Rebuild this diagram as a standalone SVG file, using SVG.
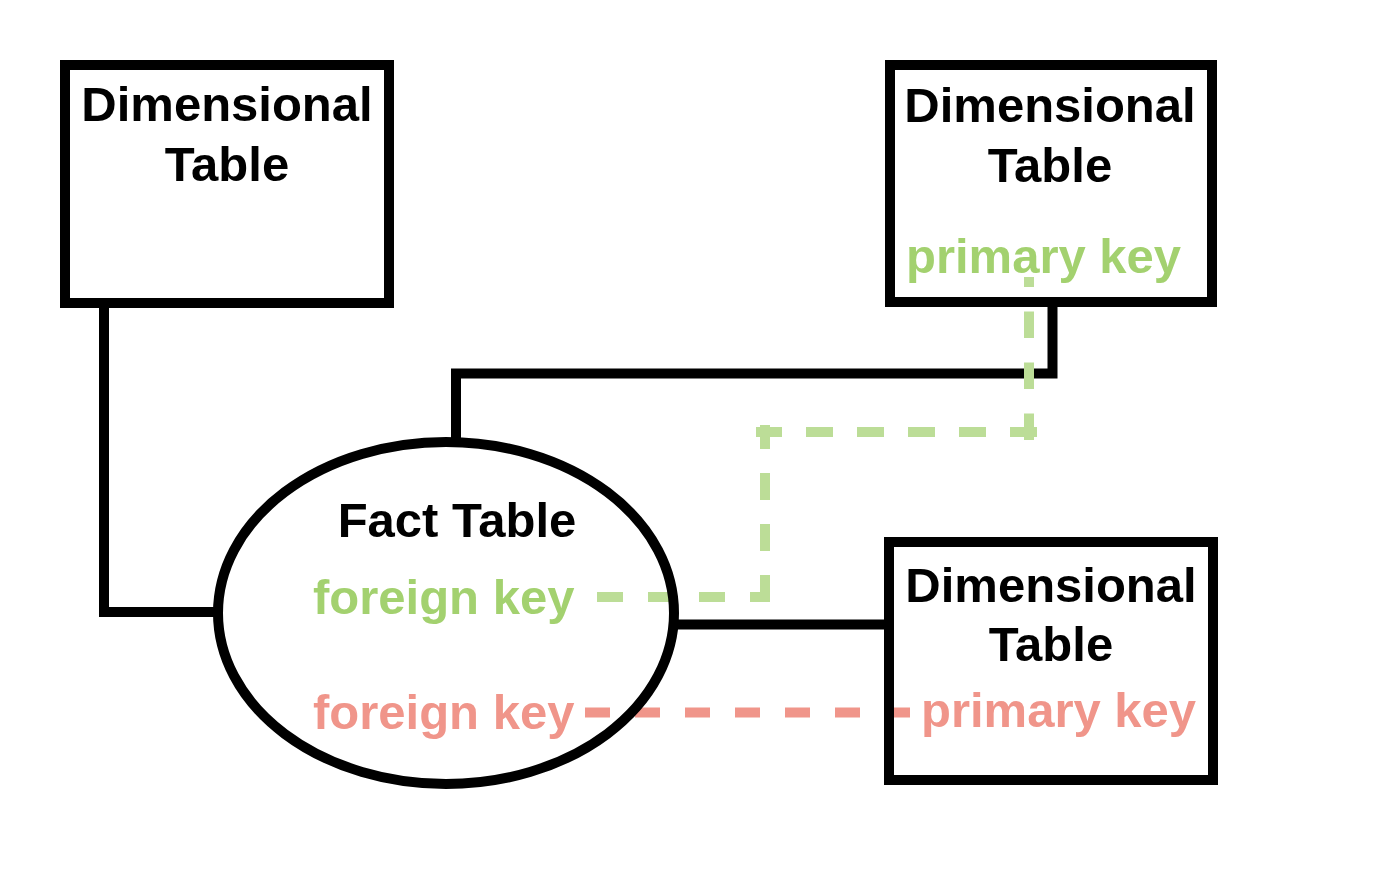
<svg xmlns="http://www.w3.org/2000/svg" width="1400" height="874" viewBox="0 0 1400 874">
<style>
.box{fill:none;stroke:#000;stroke-width:10}
.t{font-family:"Liberation Sans",Arial,sans-serif;font-weight:bold;font-size:49px}
.blk{fill:#000;text-anchor:middle}
.g{fill:#a3d16f}
.r{fill:#f0958a}
.conn{fill:none;stroke:#000;stroke-width:10;stroke-linejoin:miter}
.gd{fill:none;stroke:#bcdd97;stroke-width:10}
.rd{fill:none;stroke:#f0958a;stroke-width:10;stroke-dasharray:25 25}
</style>
<rect width="1400" height="874" fill="#fff"/>
<g id="connectors">
<path class="conn" d="M104 307 L104 612 L217 612"/>
<path class="conn" d="M1052.5 307 L1052.5 373.5 L456 373.5 L456 440"/>
<path class="conn" d="M675 624.5 L887 624.5"/>
<g id="fk-pk-green">
<path class="gd" stroke-dasharray="26.5 24.5" d="M1029 440 L1029 277"/>
<path class="gd" stroke-dasharray="27 24" d="M1037 432 L756 432"/>
<path class="gd" stroke-dasharray="27 24" d="M765 602 L765 425"/>
<path class="gd" stroke-dasharray="26 25" d="M597 597 L770 597"/>
</g>
<path class="rd" d="M585 712.5 L912 712.5"/>
</g>
<g id="dim1">
<rect class="box" x="65" y="65" width="324" height="238"/>
<text class="t blk" x="227" y="121">Dimensional</text>
<text class="t blk" x="227" y="181">Table</text>
</g>
<g id="dim2">
<rect class="box" x="890" y="65" width="322" height="237"/>
<text class="t blk" x="1050" y="122">Dimensional</text>
<text class="t blk" x="1050" y="182">Table</text>
<text class="t g" x="906" y="273">primary key</text>
</g>
<g id="dim3">
<rect class="box" x="889" y="542" width="324" height="238"/>
<text class="t blk" x="1051" y="602">Dimensional</text>
<text class="t blk" x="1051" y="661">Table</text>
<text class="t r" x="921" y="727">primary key</text>
</g>
<g id="fact">
<ellipse cx="446" cy="613" rx="228" ry="171" fill="none" stroke="#000" stroke-width="10"/>
<text class="t blk" x="457" y="537">Fact Table</text>
<text class="t g" x="313" y="614">foreign key</text>
<text class="t r" x="313" y="729">foreign key</text>
</g>
</svg>
